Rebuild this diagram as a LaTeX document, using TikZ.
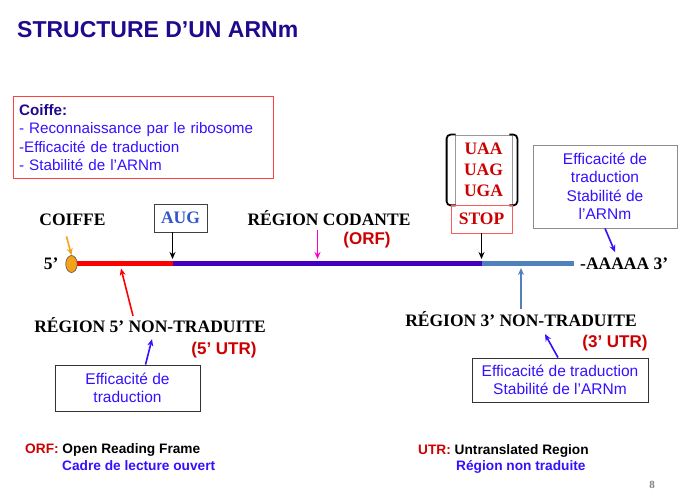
\documentclass[tikz,border=0pt]{standalone}
\usepackage{fontspec}
\setmainfont{Liberation Serif}
\setsansfont{Liberation Sans}
\usepackage{tikz}
\usetikzlibrary{arrows.meta,shapes.geometric}
\definecolor{titleblue}{HTML}{1E0A8C}
\definecolor{txtblue}{HTML}{3311FF}
\definecolor{darkred}{HTML}{CC0000}
\definecolor{augblue}{HTML}{3355CC}
\definecolor{orfviolet}{HTML}{3F00BF}
\definecolor{utrblue}{HTML}{4F81BD}
\definecolor{caporange}{HTML}{F5A21B}
\definecolor{orfpink}{HTML}{FF00CC}
\newcommand{\strand}[3]{\draw[#1,line width=5.5pt] (#2) -- (#3);}

\begin{document}
\begin{tikzpicture}[x=1pt,y=-1pt,
  serifb/.style={font=\rmfamily\bfseries\fontsize{17.5}{17.5}\selectfont},
  redsans/.style={font=\sffamily\bfseries\fontsize{17}{17}\selectfont,text=darkred},
  keytext/.style={anchor=west,inner sep=0pt,font=\sffamily\bfseries\fontsize{13.7}{13.7}\selectfont},
  infobox/.style={draw=black!80,line width=0.8pt,align=center,text=txtblue,font=\sffamily\fontsize{15.5}{18.5}\selectfont},
  pointarrow/.style={-{Stealth[length=7pt,width=6pt]},line width=1.6pt}]
  \useasboundingbox (0,0) rectangle (685,497);
  \node[anchor=west,inner sep=0pt,font=\sffamily\bfseries\fontsize{23}{23}\selectfont,text=titleblue] (title) at (17,30) {STRUCTURE D’UN ARNm};
  \node[draw=red!75,line width=0.8pt,anchor=north west,minimum width=260pt,minimum height=82pt,text width=248pt,align=left,font=\sffamily\fontsize{15.2}{18.5}\selectfont,text=txtblue] (coiffebox) at (12.7,96) {{\bfseries\color{titleblue}Coiffe:}\\- Reconnaissance par le ribosome\\-Efficacité de traduction\\- Stabilité de l’ARNm};
  % brin d'ARNm
  \coordinate (startpt) at (76,263.5);
  \coordinate (augpt) at (172.5,263.5);
  \coordinate (stoppt) at (481.5,263.5);
  \coordinate (endpt) at (574,263.5);
  \strand{red}{startpt}{augpt}
  \strand{orfviolet}{augpt}{stoppt}
  \strand{utrblue}{stoppt}{endpt}
  \node[ellipse,fill=caporange,draw=black!70,line width=0.6pt,minimum width=11.5pt,minimum height=17pt,inner sep=0pt] (cap) at (71.5,264) {};
  \node[serifb,anchor=east] (five) at (62,264) {5’};
  \node[serifb,anchor=west,inner sep=0pt] (polya) at (580,264) {-AAAAA 3’};
  % au-dessus du brin
  \node[serifb] (coiffe) at (72.5,220) {COIFFE};
  \draw[pointarrow,caporange] ([shift={(-6,7)}]coiffe.south) -- (cap.north);
  \node[draw=black!75,line width=0.8pt,serifb,text=augblue,minimum width=53pt,minimum height=28pt] (aug) at (180.5,218) {AUG};
  \coordinate (augtip) at (172.5,259);
  \draw[pointarrow] (aug.south -| augtip) -- (augtip);
  \node[serifb] (codante) at (329,218) {RÉGION CODANTE};
  \node[redsans] (orf) at (367,240) {(ORF)};
  \coordinate (orftip) at (317.5,259);
  \draw[pointarrow,orfpink] ([yshift=-1pt]codante.south -| orftip) -- (orftip);
  \node[draw=gray!80,line width=0.8pt,minimum width=57pt,minimum height=70pt,align=center,text=darkred,font=\rmfamily\bfseries\fontsize{17.5}{21}\selectfont] (codons) at (483.5,170) {UAA\\UAG\\UGA};
  \draw[line width=1.8pt,rounded corners=4pt] ([xshift=1pt]codons.north west) -- ([xshift=-8pt]codons.north west) -- ([xshift=-8pt]codons.south west) -- ([xshift=1pt]codons.south west);
  \draw[line width=1.8pt,rounded corners=4pt] ([xshift=-3pt]codons.north east) -- ([xshift=5pt]codons.north east) -- ([xshift=5pt]codons.south east) -- ([xshift=-3pt]codons.south east);
  \node[draw=red!65,line width=0.8pt,serifb,text=darkred,minimum width=61pt,minimum height=28pt] (stop) at (481.5,219) {STOP};
  \coordinate (stoptip) at (481.5,259);
  \draw[pointarrow] (stop.south -| stoptip) -- (stoptip);
  \node[infobox,draw=gray!90,minimum width=144pt,minimum height=83pt] (box3top) at (605,186.5) {Efficacité de\\traduction\\Stabilité de\\l’ARNm};
  \coordinate (polytip) at (615,252);
  \draw[pointarrow,txtblue] (box3top.south) -- (polytip);
  % regions non traduites
  \node[serifb] (utr5) at (150,325) {RÉGION 5’ NON-TRADUITE};
  \coordinate (utr5tip) at (121,268.5);
  \draw[pointarrow,red] ([shift={(-17,2)}]utr5.north) -- (utr5tip);
  \node[redsans] (utr5abbr) at (224,350) {(5’ UTR)};
  \node[infobox,minimum width=145pt,minimum height=46pt] (box5) at (127.5,388) {Efficacité de\\traduction};
  \draw[pointarrow,txtblue] ([xshift=18pt]box5.north) -- ([shift={(2,3)}]utr5.south);
  \node[serifb] (utr3) at (521,319) {RÉGION 3’ NON-TRADUITE};
  \coordinate (utr3tip) at (521,268);
  \draw[pointarrow,utrblue] ([yshift=-1pt]utr3.north) -- (utr3tip);
  \node[redsans] (utr3abbr) at (615,343) {(3’ UTR)};
  \node[infobox,minimum width=176pt,minimum height=44pt] (box3) at (560,380) {Efficacité de traduction\\Stabilité de l’ARNm};
  \draw[pointarrow,txtblue] ([xshift=-2pt]box3.north) -- ([shift={(24,4)}]utr3.south);
  % legende
  \node[keytext] (orfkey) at (25,450) {\textcolor{darkred}{ORF:} Open Reading Frame};
  \node[keytext,text=txtblue] (orffr) at (62,466) {Cadre de lecture ouvert};
  \node[keytext] (utrkey) at (418,451) {\textcolor{darkred}{UTR:} Untranslated Region};
  \node[keytext,text=txtblue] (utrfr) at (456,467) {Région non traduite};
  \node[font=\rmfamily\bfseries\fontsize{11}{11}\selectfont,text=black!50] (pagenum) at (652,485) {8};
\end{tikzpicture}
\end{document}
